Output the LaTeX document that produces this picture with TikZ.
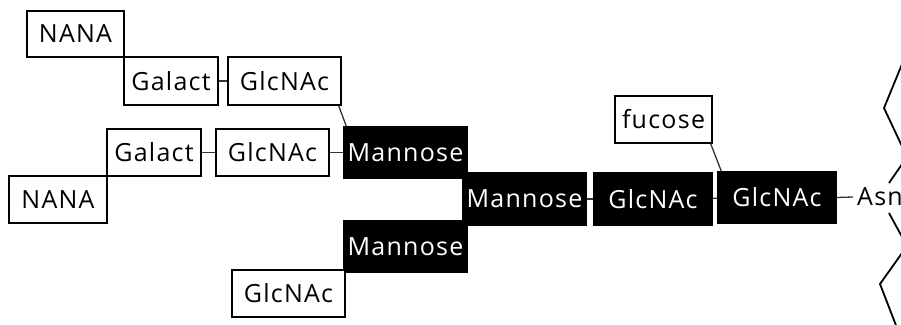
\documentclass[tikz,border=0pt]{standalone}
\usepackage{fontspec}
\setmainfont{Open Sans}[LetterSpace=5]
\begin{document}
\begin{tikzpicture}[x=1pt,y=-1pt,
  sugar/.style={draw=black,line width=1.3pt,fill=white,inner sep=0pt,
    font=\fontsize{25}{28}\selectfont,text=black},
  core/.style={sugar,fill=black,text=white},
  bond/.style={line width=1.3pt,black!80},
  chain/.style={line width=1.8pt,black,line join=miter}]
\useasboundingbox (0,0) rectangle (901,324);
\clip (0,0) rectangle (901,324);

% antenna 1
\node[sugar,minimum width=97pt,minimum height=46pt] (nana1) at (75.5,34) {NANA};
\node[sugar,minimum width=94pt,minimum height=48pt] (gal1) at (171,81) {Galact};
\node[sugar,minimum width=113pt,minimum height=48pt] (gn1) at (284.5,81) {GlcNAc};

% antenna 2
\node[sugar,minimum width=94pt,minimum height=47pt] (gal2) at (154,152.5) {Galact};
\node[sugar,minimum width=113pt,minimum height=47pt] (gn2) at (272.5,152.5) {GlcNAc};
\node[sugar,minimum width=98pt,minimum height=47pt] (nana2) at (58,199.5) {NANA};

% mannose core
\node[core,minimum width=123pt,minimum height=51pt] (man1) at (405.5,152.5) {Mannose};
\node[core,minimum width=123pt,minimum height=51pt] (man2) at (405.5,246.5) {Mannose};
\node[core,minimum width=123pt,minimum height=52pt] (manc) at (524.5,199) {Mannose};
\node[sugar,minimum width=113pt,minimum height=47pt] (gn3) at (288.5,293.5) {GlcNAc};

% chitobiose stem
\node[core,minimum width=118pt,minimum height=52pt] (gnb1) at (653,199) {GlcNAc};
\node[core,minimum width=118pt,minimum height=51pt] (gnb2) at (777,197.5) {GlcNAc};
\node[sugar,minimum width=97pt,minimum height=47pt] (fuc) at (663.5,119.5) {fucose};
\node[font=\fontsize{25}{28}\selectfont,text=black,anchor=west,inner sep=0pt] (asn) at (857,197) {Asn};

% glycosidic bonds
\draw[bond] (gal1) -- (gn1);
\draw[bond] (gal2) -- (gn2);
\draw[bond] (gn2) -- (man1);
\draw[bond] (manc) -- (gnb1);
\draw[bond] (gnb1) -- (gnb2);
\draw[bond] (gnb2.east) -- ([xshift=-4pt]asn.west);
\draw[bond] ([xshift=-3pt]gn1.south east) -- ([xshift=3pt]man1.north west);
\draw[bond] ([xshift=-2pt]fuc.south east) -- ([xshift=4pt]gnb2.north west);

% peptide backbone
\coordinate (asnT) at (889,183);
\coordinate (asnB) at (889,213);
\draw[chain] (907,52) -- (884,108) -- (907,157) -- (asnT);
\draw[chain] (asnB) -- (907,246) -- (880,284) -- (897,328);
\end{tikzpicture}
\end{document}
